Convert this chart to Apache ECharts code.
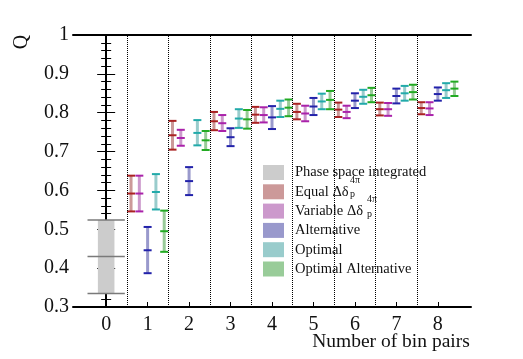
<!DOCTYPE html>
<html>
<head>
<meta charset="utf-8">
<script src="https://cdn.jsdelivr.net/npm/echarts@6/dist/echarts.min.js"></script>
<style>
html, body { margin: 0; padding: 0; background: #fff; }
#chart { width: 523px; height: 359px; }
</style>
</head>
<body>
<div id="chart"></div>
<script>
const binPairTicks = [0, 1, 2, 3, 4, 5, 6, 7, 8];
const qTicks = [0.3, 0.4, 0.5, 0.6, 0.7, 0.8, 0.9, 1];
const separators = [0.5, 1.5, 2.5, 3.5, 4.5, 5.5, 6.5, 7.5];

// phase space integrated, at 0 bin pairs: low, central, high
const phaseSpaceQ = [0.335, 0.430, 0.524];

const binPairs = [1, 2, 3, 4, 5, 6, 7, 8];

const equalMid  = [0.592, 0.742, 0.778, 0.795, 0.802, 0.808, 0.809, 0.812];
const equalLow  = [0.546, 0.705, 0.755, 0.774, 0.783, 0.789, 0.793, 0.796];
const equalHigh = [0.638, 0.779, 0.802, 0.815, 0.823, 0.826, 0.826, 0.827];

const variableMid  = [0.592, 0.735, 0.773, 0.794, 0.798, 0.802, 0.809, 0.811];
const variableLow  = [0.546, 0.715, 0.753, 0.775, 0.778, 0.786, 0.792, 0.794];
const variableHigh = [0.638, 0.756, 0.794, 0.814, 0.818, 0.818, 0.825, 0.827];

const alternativeMid  = [0.446, 0.624, 0.737, 0.788, 0.816, 0.831, 0.843, 0.848];
const alternativeLow  = [0.387, 0.588, 0.714, 0.758, 0.794, 0.812, 0.824, 0.831];
const alternativeHigh = [0.506, 0.660, 0.760, 0.817, 0.838, 0.850, 0.862, 0.865];

const optimalMid  = [0.596, 0.748, 0.785, 0.810, 0.829, 0.841, 0.850, 0.858];
const optimalLow  = [0.551, 0.716, 0.761, 0.789, 0.809, 0.823, 0.831, 0.838];
const optimalHigh = [0.642, 0.781, 0.809, 0.831, 0.849, 0.859, 0.869, 0.876];

const optAltMid  = [0.495, 0.729, 0.783, 0.813, 0.833, 0.845, 0.853, 0.862];
const optAltLow  = [0.442, 0.704, 0.759, 0.791, 0.809, 0.827, 0.834, 0.843];
const optAltHigh = [0.548, 0.753, 0.807, 0.834, 0.856, 0.864, 0.872, 0.880];

const fontFamily = "'Liberation Serif', 'DejaVu Serif', serif";
const textColor = '#111';

// one error bar per bin pair, shifted sideways by offset (in bin units)
function errorBars(name, low, mid, high, offset, pale, dark) {
    return {
        name: name,
        type: 'custom',
        itemStyle: { color: pale },
        encode: { x: 0, y: [1, 2, 3] },
        data: binPairs.map((b, i) => [b, low[i], mid[i], high[i]]),
        renderItem(params, api) {
            const x = api.value(0) + offset;
            const lo = api.coord([x, api.value(1)]);
            const md = api.coord([x, api.value(2)]);
            const hi = api.coord([x, api.value(3)]);
            const w = 4;
            const cap = p => ({
                type: 'line',
                shape: { x1: p[0] - w, y1: p[1], x2: p[0] + w, y2: p[1] },
                style: { stroke: dark, lineWidth: 2 }
            });
            return {
                type: 'group',
                children: [
                    {
                        type: 'line',
                        shape: { x1: lo[0], y1: lo[1], x2: hi[0], y2: hi[1] },
                        style: { stroke: pale, lineWidth: 3 }
                    },
                    cap(lo), cap(md), cap(hi)
                ]
            };
        }
    };
}

const phaseSeries = {
    name: 'Phase space integrated',
    type: 'custom',
    itemStyle: { color: '#cccccc' },
    encode: { x: 0, y: [1, 2, 3] },
    data: [[0].concat(phaseSpaceQ)],
    renderItem(params, api) {
        const x = api.value(0);
        const tl = api.coord([x - 0.2, api.value(3)]);
        const br = api.coord([x + 0.2, api.value(1)]);
        const line = v => {
            const a = api.coord([x - 0.45, v]);
            const b = api.coord([x + 0.45, v]);
            return {
                type: 'line',
                shape: { x1: a[0], y1: a[1], x2: b[0], y2: b[1] },
                style: { stroke: '#7a7a7a', lineWidth: 1.5 }
            };
        };
        return {
            type: 'group',
            children: [
                {
                    type: 'rect',
                    shape: { x: tl[0], y: tl[1], width: br[0] - tl[0], height: br[1] - tl[1] },
                    style: { fill: '#cccccc' }
                },
                line(api.value(1)), line(api.value(2)), line(api.value(3))
            ]
        };
    },
    markLine: {
        silent: true,
        symbol: 'none',
        label: { show: false },
        lineStyle: { color: '#000', type: [1, 1], width: 1 },
        data: separators.map(v => ({ xAxis: v }))
    }
};

const legendNames = ['Phase space integrated', 'Equal', 'Variable', 'Alternative', 'Optimal', 'Optimal Alternative'];

// sub/superscript pieces of the legend labels "Δδ_p^4π"
function scripts(x, rowY) {
    const font = { fontFamily: fontFamily, fontSize: 10, fill: textColor, align: 'left', verticalAlign: 'middle' };
    return [
        { type: 'text', x: x, y: rowY - 11.5, z: 10, style: Object.assign({ text: '4π' }, font) },
        { type: 'text', x: x, y: rowY + 3, z: 10, style: Object.assign({ text: 'p' }, font) }
    ];
}

const chart = echarts.init(document.getElementById('chart'));
chart.setOption({
    animation: false,
    backgroundColor: '#fff',
    grid: { left: 73, right: 52, top: 35, bottom: 52, outerBoundsMode: 'none', containLabel: false },
    graphic: [
        {
            type: 'text',
            x: 22,
            y: 42,
            rotation: Math.PI / 2,
            style: {
                text: 'Q',
                fontFamily: fontFamily,
                fontSize: 20,
                fill: textColor,
                align: 'center',
                verticalAlign: 'middle'
            }
        }
    ].concat(scripts(350, 191.8), scripts(367, 211.1)),
    legend: {
        orient: 'vertical',
        left: 255,
        top: 153,
        padding: [12, 10, 9, 8],
        itemGap: 4.3,
        itemWidth: 21,
        itemHeight: 15,
        icon: 'rect',
        selectedMode: false,
        backgroundColor: '#fff',
        data: legendNames,
        formatter(name) {
            if (name === 'Equal' || name === 'Variable') {
                return '{t|' + name + ' Δδ}';
            }
            return '{t|' + name + '}';
        },
        textStyle: {
            rich: {
                t: { fontSize: 14.5, lineHeight: 15, fontFamily: fontFamily, color: textColor, padding: [0, 0, 0, 6] }
            }
        }
    },
    xAxis: [
        {
            type: 'value',
            position: 'bottom',
            min: -0.8,
            max: 8.8,
            splitLine: { show: false },
            axisLine: { lineStyle: { color: '#000', width: 2 } },
            axisTick: { inside: true, length: 5, customValues: binPairTicks, lineStyle: { color: '#000', width: 1 } },
            axisLabel: {
                customValues: binPairTicks,
                color: textColor,
                fontFamily: fontFamily,
                fontSize: 20,
                margin: 8
            },
            name: 'Number of bin pairs',
            nameLocation: 'middle',
            nameGap: 25,
            nameMoveOverlap: false,
            nameTextStyle: {
                color: textColor,
                fontFamily: fontFamily,
                fontSize: 19.5,
                align: 'center',
                verticalAlign: 'top',
                padding: [0, 0, 0, 238]
            }
        },
        {
            type: 'value',
            position: 'top',
            min: -0.8,
            max: 8.8,
            splitLine: { show: false },
            axisLine: { lineStyle: { color: '#000', width: 2 } },
            axisTick: { show: false },
            axisLabel: { show: false }
        }
    ],
    yAxis: [
        {
            type: 'value',
            position: 'left',
            min: 0.3,
            max: 1,
            interval: 0.1,
            splitLine: { show: false },
            axisLine: { show: true, lineStyle: { color: '#000', width: 2 } },
            axisTick: { inside: true, length: 9, lineStyle: { color: '#000', width: 1 } },
            minorTick: { show: true, splitNumber: 5, length: 5, lineStyle: { color: '#000', width: 1 } },
            axisLabel: {
                customValues: qTicks,
                color: textColor,
                fontFamily: fontFamily,
                fontSize: 20,
                margin: 4
            }
        },
        {
            type: 'value',
            position: 'right',
            min: 0.3,
            max: 1,
            interval: 0.1,
            splitLine: { show: false },
            axisLine: { show: true, lineStyle: { color: '#000', width: 2 } },
            axisTick: { inside: true, length: 9, lineStyle: { color: '#000', width: 1 } },
            minorTick: { show: true, splitNumber: 5, length: 5, lineStyle: { color: '#000', width: 1 } },
            axisLabel: { show: false }
        }
    ],
    series: [
        phaseSeries,
        errorBars('Equal', equalLow, equalMid, equalHigh, -0.4, '#cc9999', '#aa2222'),
        errorBars('Variable', variableLow, variableMid, variableHigh, -0.2, '#cc99cc', '#aa22aa'),
        errorBars('Alternative', alternativeLow, alternativeMid, alternativeHigh, 0, '#9999cc', '#2222aa'),
        errorBars('Optimal', optimalLow, optimalMid, optimalHigh, 0.2, '#99cccc', '#22aaaa'),
        errorBars('Optimal Alternative', optAltLow, optAltMid, optAltHigh, 0.4, '#99cc99', '#22aa22')
    ]
});
</script>
</body>
</html>
